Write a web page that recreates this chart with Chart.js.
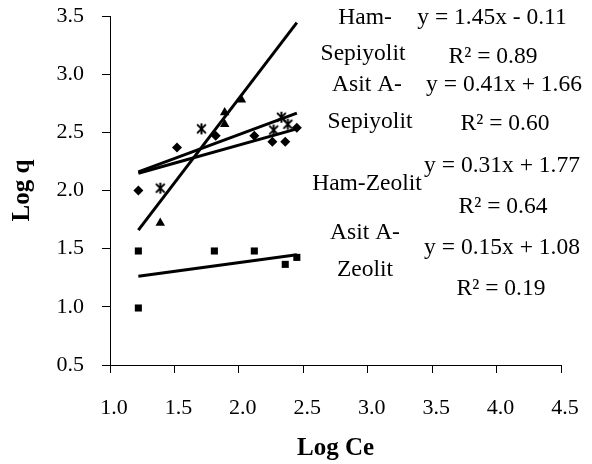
<!DOCTYPE html>
<html>
<head>
<meta charset="utf-8">
<script src="https://cdn.jsdelivr.net/npm/chart.js@4/dist/chart.umd.min.js"></script>
<style>
  html, body { margin: 0; padding: 0; background: #ffffff; }
  #wrap { width: 592px; height: 464px; }
</style>
</head>
<body>
<div id="wrap"><canvas id="c" width="592" height="464"></canvas></div>
<script>
// Tick values of both axes
const xTickValues = [1.0, 1.5, 2.0, 2.5, 3.0, 3.5, 4.0, 4.5];
const yTickValues = [0.5, 1.0, 1.5, 2.0, 2.5, 3.0, 3.5];

// Log Ce / Log q pairs per adsorbent
const hamZeolitX = [1.22, 1.52, 1.82, 2.12, 2.26, 2.36, 2.45];
const hamZeolitY = [2.00, 2.37, 2.47, 2.47, 2.42, 2.42, 2.54];

const asitZeolitX = [1.22, 1.22, 1.81, 2.12, 2.36, 2.45];
const asitZeolitY = [1.48, 0.99, 1.48, 1.48, 1.365, 1.425];

const hamSepiyolitX = [1.39, 1.89, 1.89, 2.02];
const hamSepiyolitY = [1.72, 2.57, 2.67, 2.78];

const asitSepiyolitX = [1.39, 1.71, 2.27, 2.33, 2.38];
const asitSepiyolitY = [2.02, 2.53, 2.52, 2.63, 2.57];

// Linear trendlines (y = slope * x + intercept) and their span on Log Ce
const seriesNames = ['Ham-Sepiyolit', 'Asit A-Sepiyolit', 'Ham-Zeolit', 'Asit A-Zeolit'];
const trendSlopes = [1.45, 0.41, 0.31, 0.15];
const trendIntercepts = [-0.11, 1.66, 1.77, 1.08];
const trendR2 = [0.89, 0.60, 0.64, 0.19];
const trendFrom = [1.22, 1.22, 1.22, 1.22];
const trendTo = [2.45, 2.45, 2.45, 2.45];

const SERIF = '"Liberation Serif", "Times New Roman", serif';

function pairs(xs, ys) { return xs.map((x, i) => ({ x: x, y: ys[i] })); }

function fmtSigned(v) {
  return (v < 0 ? '- ' : '+ ') + Math.abs(v).toFixed(2);
}

// Excel-style asterisk marker
function asteriskMarker(size) {
  const cv = document.createElement('canvas');
  cv.width = size; cv.height = size;
  const g = cv.getContext('2d');
  const c = size / 2, r = size / 2 - 1;
  g.strokeStyle = '#000';
  g.lineWidth = 2;
  g.beginPath();
  g.moveTo(c, c - r); g.lineTo(c, c + r);
  g.moveTo(c - r * 0.8, c - r * 0.8); g.lineTo(c + r * 0.8, c + r * 0.8);
  g.moveTo(c + r * 0.8, c - r * 0.8); g.lineTo(c - r * 0.8, c + r * 0.8);
  g.stroke();
  return cv;
}

const markerSets = [
  { data: pairs(hamZeolitX, hamZeolitY), pointStyle: 'rectRot', pointRadius: 5 },
  { data: pairs(asitZeolitX, asitZeolitY), pointStyle: 'rect', pointRadius: 5 },
  { data: pairs(hamSepiyolitX, hamSepiyolitY), pointStyle: 'triangle', pointRadius: 5.5 },
  { data: pairs(asitSepiyolitX, asitSepiyolitY), pointStyle: asteriskMarker(13), pointRadius: 6 }
].map(s => Object.assign({
  type: 'scatter',
  showLine: false,
  backgroundColor: '#000',
  borderColor: '#000',
  borderWidth: 0,
  pointHoverRadius: 5,
  order: 1
}, s));

const trendSets = trendSlopes.map((m, i) => ({
  type: 'scatter',
  showLine: true,
  data: [
    { x: trendFrom[i], y: m * trendFrom[i] + trendIntercepts[i] },
    { x: trendTo[i], y: m * trendTo[i] + trendIntercepts[i] }
  ],
  borderColor: '#000',
  borderWidth: 3,
  pointRadius: 0,
  fill: false,
  order: 0
}));

// Trendline captions: series name lines, equation, R²
const captionLayout = [
  { name: [[365, 18], [363, 54]], eq: [492, 18], r2: [493, 57] },
  { name: [[367, 85], [370, 122]], eq: [504, 85], r2: [505, 124] },
  { name: [[367, 184]], eq: [502, 166], r2: [503, 207] },
  { name: [[365, 233], [365, 270]], eq: [502, 248], r2: [501, 289] }
];
const nameLines = [['Ham-', 'Sepiyolit'], ['Asit A-', 'Sepiyolit'], ['Ham-Zeolit'], ['Asit A-', 'Zeolit']];

const captionPlugin = {
  id: 'captions',
  afterDatasetsDraw(chart) {
    const ctx = chart.ctx;
    ctx.save();
    ctx.fillStyle = '#000';
    ctx.font = '23.5px ' + SERIF;
    ctx.textAlign = 'center';
    ctx.textBaseline = 'middle';
    captionLayout.forEach((L, i) => {
      nameLines[i].forEach((t, k) => ctx.fillText(t, L.name[k][0], L.name[k][1]));
      ctx.fillText('y = ' + trendSlopes[i].toFixed(2) + 'x ' + fmtSigned(trendIntercepts[i]), L.eq[0], L.eq[1]);
      ctx.fillText('R\u00B2 = ' + trendR2[i].toFixed(2), L.r2[0], L.r2[1]);
    });
    ctx.restore();
  }
};

new Chart(document.getElementById('c'), {
  data: { datasets: markerSets.concat(trendSets) },
  options: {
    responsive: false,
    devicePixelRatio: 1,
    animation: false,
    layout: { padding: { left: 0, top: 16, right: 31, bottom: 0 } },
    plugins: { legend: { display: false }, tooltip: { enabled: false } },
    scales: {
      x: {
        type: 'linear',
        min: 1.0, max: 4.5,
        afterBuildTicks(s) { s.ticks = xTickValues.map(v => ({ value: v })); },
        afterFit(s) { s.height = 99; s.paddingLeft = 0; s.paddingRight = 0; },
        ticks: {
          color: '#000',
          font: { family: SERIF, size: 22 },
          padding: 22,
          labelOffset: 4,
          maxRotation: 0,
          autoSkip: false,
          callback: v => Number(v).toFixed(1)
        },
        grid: { drawOnChartArea: false, drawTicks: true, tickLength: 8, tickColor: '#000', tickWidth: 1 },
        border: { display: true, color: '#000', width: 1 },
        title: { display: true, text: 'Log Ce', color: '#000', font: { family: SERIF, size: 25, weight: 'bold' }, padding: { top: 0, bottom: 0 } }
      },
      y: {
        type: 'linear',
        min: 0.5, max: 3.5,
        afterBuildTicks(s) { s.ticks = yTickValues.map(v => ({ value: v })); },
        afterFit(s) { s.width = 110; s.paddingTop = 0; s.paddingBottom = 0; },
        ticks: {
          color: '#000',
          font: { family: SERIF, size: 22 },
          padding: 18,
          autoSkip: false,
          callback: v => Number(v).toFixed(1)
        },
        grid: { drawOnChartArea: false, drawTicks: true, tickLength: 8, tickColor: '#000', tickWidth: 1 },
        border: { display: true, color: '#000', width: 1 },
        title: { display: true, text: 'Log q', color: '#000', font: { family: SERIF, size: 25, weight: 'bold' }, padding: { top: 8, bottom: 0 } }
      }
    }
  },
  plugins: [captionPlugin]
});
</script>
</body>
</html>
